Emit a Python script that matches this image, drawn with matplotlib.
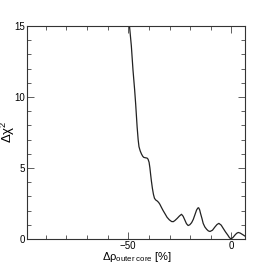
import matplotlib
matplotlib.use("Agg")
import matplotlib.pyplot as plt
from matplotlib.ticker import MultipleLocator

plt.rcParams['font.family'] = ['Liberation Sans', 'DejaVu Sans']
plt.rcParams['mathtext.fontset'] = 'custom'
plt.rcParams['mathtext.rm'] = 'Liberation Sans'
plt.rcParams['mathtext.it'] = 'Liberation Sans:italic'

# ===================== DADOS =====================
delta_rho = [-50.0, -49.4, -48.5, -47.7, -46.9, -46.4, -45.7, -45.2, -44.8, -44.2,
             -43.6, -43.0, -42.5, -41.7, -40.9, -40.4, -39.9, -39.5, -39.2, -38.8,
             -38.3, -37.8, -37.3, -36.7, -36.0, -35.3, -34.7, -33.9, -33.1, -32.2,
             -31.2, -30.1, -29.0, -28.2, -27.4, -26.3, -25.2, -24.2, -23.4, -22.6,
             -21.8, -21.0, -20.2, -19.3, -18.5, -17.6, -16.9, -16.3, -15.9, -15.4,
             -15.0, -14.3, -13.7, -12.9, -12.0, -11.2, -10.4, -9.2, -8.0, -7.0,
             -6.1, -5.0, -4.0, -2.9, -1.8, -1.0, -0.2, 0.8, 1.7, 2.5,
             3.3, 4.2, 5.2, 6.5]
delta_chi2 = [15.6, 15.0, 13.6, 11.9, 10.5, 9.5, 7.9, 7.0, 6.5, 6.2,
              5.99, 5.83, 5.75, 5.72, 5.70, 5.62, 5.40, 5.0, 4.6, 4.1,
              3.57, 3.15, 2.87, 2.75, 2.68, 2.58, 2.45, 2.22, 2.0, 1.78,
              1.53, 1.35, 1.23, 1.22, 1.30, 1.45, 1.62, 1.74, 1.60, 1.34,
              1.08, 0.95, 1.0, 1.15, 1.38, 1.75, 2.04, 2.18, 2.2, 2.05,
              1.81, 1.45, 1.1, 0.85, 0.68, 0.57, 0.53, 0.62, 0.85, 1.02,
              1.1, 0.98, 0.75, 0.5, 0.28, 0.1, 0.0, 0.12, 0.28, 0.4,
              0.46, 0.42, 0.33, 0.21]

# ===================== FIGURA =====================
fig = plt.figure(figsize=(2.73, 2.66), dpi=100)
ax = fig.add_axes([0.1007, 0.1015, 0.7967, 0.8008])

ax.plot(delta_rho, delta_chi2, color="#222222", linewidth=0.9)

ax.set_xlim(-98.8, 6.55)
ax.set_ylim(0, 15)

ax.xaxis.set_major_locator(MultipleLocator(50))
ax.xaxis.set_minor_locator(MultipleLocator(10))
ax.yaxis.set_major_locator(MultipleLocator(5))
ax.yaxis.set_minor_locator(MultipleLocator(1))

ax.tick_params(which='both', direction='in', top=True, right=True,
               width=0.6, colors='#444444', labelcolor='black', labelsize=7)
ax.tick_params(which='major', length=5.2)
ax.tick_params(which='minor', length=3.0)
ax.tick_params(axis='x', pad=1.5)
ax.tick_params(axis='y', pad=1.5)

for s in ax.spines.values():
    s.set_linewidth(0.8)
    s.set_color('#333333')

# rótulos dos eixos
fig.text(0.5, 0.024, r"Δρ$_{\mathregular{outer\ core}}$ [%]", fontsize=8,
         ha='center', va='baseline')
fig.text(0.028, 0.505, r"Δχ$^{\mathregular{2}}$", rotation=90, fontsize=9.5,
         ha='center', va='center')

fig.savefig("out.png", dpi=100)
